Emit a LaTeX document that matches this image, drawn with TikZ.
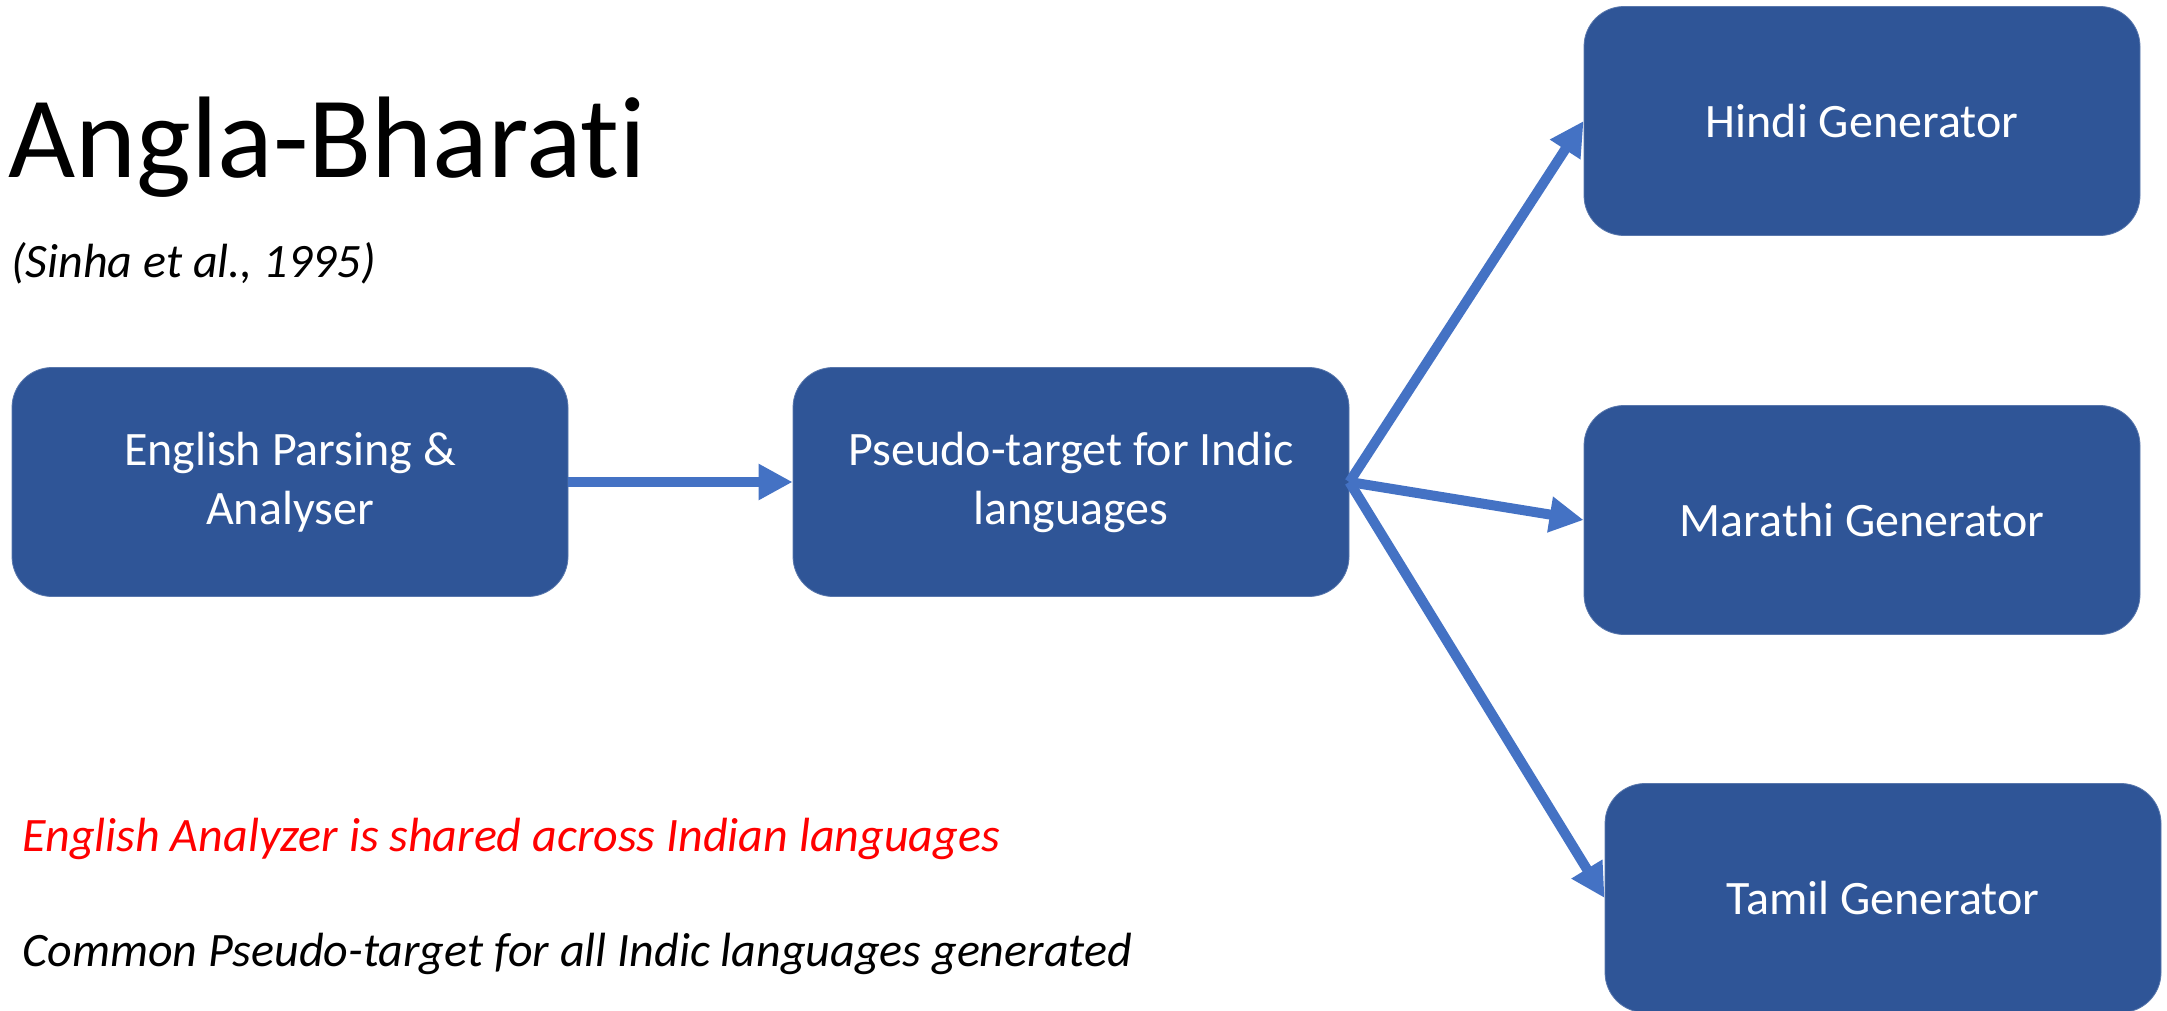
\documentclass[tikz,border=0pt]{standalone}
\usepackage{fontspec}
\setmainfont{Carlito}[Ligatures={NoCommon,TeX}]
\usepackage{tikz}
\usetikzlibrary{arrows.meta}
\definecolor{boxblue}{HTML}{2F5597}
\definecolor{arrowblue}{HTML}{4472C4}
\tikzset{
  stage/.style={draw=boxblue!80!white, fill=boxblue, rounded corners=20pt,
    minimum width=278pt, minimum height=114.5pt, text=white, align=center,
    font=\fontsize{24}{29.5}\selectfont},
  flow/.style={arrowblue, line width=5pt,
    -{Triangle[length=17pt,width=17pt]}},
  note/.style={anchor=west, inner sep=0pt, font=\fontsize{24}{29}\selectfont\itshape}
}

\begin{document}
\begin{tikzpicture}[x=0.5pt,y=-0.5pt]
\useasboundingbox (0,0) rectangle (2167,1011);
% title
\node [anchor=west, inner sep=0pt, font=\fontsize{58}{62}\selectfont] (title) at (8,147) {Angla-Bharati};
\node [note] (cite) at (11,263) {(Sinha et al., 1995)};
% stages
\node [stage] (english) at (290,482) {English Parsing \&\\Analyser};
\node [stage] (pseudo) at (1071,482) {Pseudo-target for Indic\\languages};
\node [stage] (hindi) at (1862,121) {Hindi Generator};
\node [stage] (marathi) at (1862,520) {Marathi Generator};
\node [stage] (tamil) at (1883,898) {Tamil Generator};
% arrows
\draw [flow] (english.east) -- (pseudo.west);
\draw [flow] (pseudo.east) -- (hindi.west);
\draw [flow] (pseudo.east) -- (marathi.west);
\draw [flow] (pseudo.east) -- (tamil.west);
% notes
\node [note, text=red] (shared) at (22,839) {English Analyzer is shared across Indian languages};
\node [note] (common) at (22,954) {Common Pseudo-target for all Indic languages generated};
\end{tikzpicture}
\end{document}
